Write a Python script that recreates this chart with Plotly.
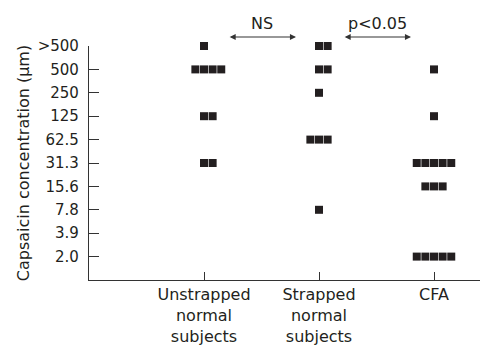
import plotly.graph_objects as go

# ordinal concentration levels (index 0 is the empty slot under 2.0)
levels = ["", "2.0", "3.9", "7.8", "15.6", "31.3", "62.5", "125", "250", "500", ">500"]
categories = ["Unstrapped<br>normal<br>subjects", "Strapped<br>normal<br>subjects", "CFA"]

unstrapped = [">500", "500", "500", "500", "500", "125", "125", "31.3", "31.3"]
strapped = [">500", ">500", "500", "500", "250", "62.5", "62.5", "62.5", "7.8"]
cfa = ["500", "125", "31.3", "31.3", "31.3", "31.3", "31.3", "15.6", "15.6", "15.6",
       "2.0", "2.0", "2.0", "2.0", "2.0"]

groups = [unstrapped, strapped, cfa]
comparisons = [("NS", 0, 1), ("p<0.05", 1, 2)]

FONT = "DejaVu Sans"
INK = "#231f20"
DX = 0.075

xs, ys = [], []
for gi, vals in enumerate(groups):
    counts = {}
    for v in vals:
        counts[v] = counts.get(v, 0) + 1
    for v, n in counts.items():
        for i in range(n):
            xs.append(gi + (i - (n - 1) // 2) * DX)
            ys.append(levels.index(v))

fig = go.Figure()
fig.add_trace(go.Scatter(
    x=xs, y=ys, mode="markers",
    marker=dict(symbol="square", size=8, color=INK, line=dict(width=0)),
    cliponaxis=False, showlegend=False, hoverinfo="skip"))

ARROW_Y = 1.0385  # paper units, just above the plot area
for label, a, b in comparisons:
    x0 = a + 0.21
    x1 = b - 0.2
    fig.add_annotation(x=x1, y=ARROW_Y, ax=x0, ay=0, xref="x", yref="paper",
                       axref="x", ayref="pixel", text="", showarrow=True,
                       arrowhead=2, arrowside="end+start", arrowsize=1.1,
                       arrowwidth=1.1, arrowcolor="#333333")
    fig.add_annotation(x=(x0 + x1) / 2, y=ARROW_Y, xref="x", yref="paper", text=label,
                       showarrow=False, yanchor="middle", xanchor="center", yshift=13,
                       font=dict(family=FONT, size=16, color=INK))

fig.update_layout(
    width=480, height=352,
    margin=dict(l=89, r=0, t=46, b=72),
    plot_bgcolor="white", paper_bgcolor="white",
    showlegend=False,
    font=dict(family=FONT, color=INK),
    xaxis=dict(range=[-1, 2.4], tickvals=[0, 1, 2], ticktext=categories,
               showgrid=False, zeroline=False, showline=True, linecolor="#333333",
               linewidth=1.2, ticks="inside", ticklen=8, tickcolor="#333333",
               tickwidth=1, tickfont=dict(family=FONT, size=16, color=INK),
               automargin=False),
    yaxis=dict(range=[0, 10], tickvals=list(range(1, 11)), ticktext=levels[1:],
               showgrid=False, zeroline=False, showline=True, linecolor="#333333",
               linewidth=1.2, ticks="inside", ticklen=10, tickcolor="#333333",
               tickwidth=1, tickfont=dict(family=FONT, size=15, color=INK),
               ticklabelstandoff=6,
               title=dict(text="Capsaicin concentration (µm)", standoff=4,
                          font=dict(family=FONT, size=16, color=INK)),
               automargin=False),
)

fig.write_html("out.html", config={"displayModeBar": False},
               post_script="document.body.style.margin='0';")
